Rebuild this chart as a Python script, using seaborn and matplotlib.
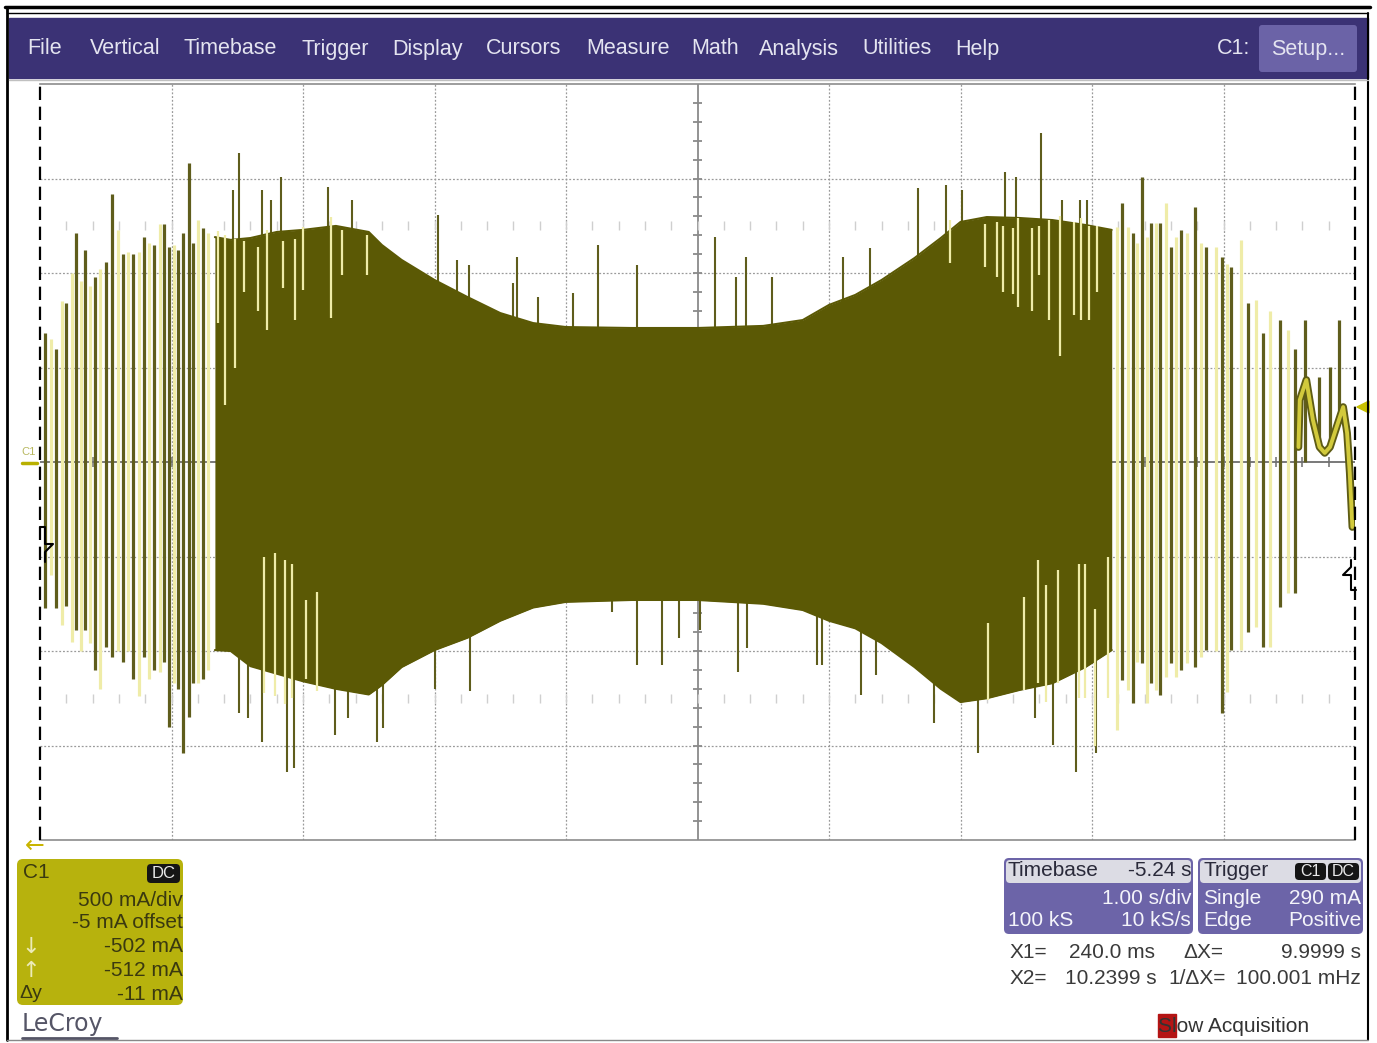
import matplotlib
matplotlib.use("Agg")
from matplotlib import pyplot as plt
from matplotlib.patches import FancyBboxPatch, Rectangle, Polygon
import numpy as np
import pandas as pd
import seaborn as sns

sns.set_theme(style="white")
plt.rcParams['font.family'] = ['Liberation Sans', 'DejaVu Sans']

# Dense body of the C1 trace: time (s, 0..10 across the screen) and current (mA)
env_t = [1.33, 1.45, 1.6, 1.8, 2.0, 2.25, 2.5, 2.6, 2.75, 3.0, 3.25, 3.5, 3.75, 4.0, 4.5,
         5.0, 5.5, 5.8, 6.0, 6.2, 6.4, 6.65, 6.85, 7.0, 7.2, 7.45, 7.7, 7.95, 8.15]
env_hi = [1190, 1175, 1185, 1217, 1228, 1249, 1217, 1148, 1069, 963, 873, 788, 735, 714, 709,
          709, 720, 751, 831, 884, 963, 1079, 1185, 1270, 1296, 1291, 1280, 1254, 1228]
env_lo = [-995, -1000, -1080, -1120, -1160, -1200, -1230, -1180, -1085, -995, -930, -840, -770, -740, -730,
          -730, -750, -783, -840, -880, -958, -1085, -1200, -1270, -1250, -1206, -1170, -1085, -995]

# Sparse strokes at the left end: time, top, bottom, pale (1) or dark (0)
left_t = [0.04, 0.08, 0.12, 0.17, 0.20, 0.24, 0.27, 0.31, 0.34, 0.38, 0.42, 0.46, 0.50, 0.55, 0.59, 0.63, 0.67,
          0.71, 0.75, 0.79, 0.83, 0.87, 0.91, 0.94, 0.98, 1.02, 1.05, 1.09, 1.13, 1.16, 1.20, 1.24, 1.28]
left_hi = [680, 650, 600, 850, 840, 1000, 1210, 960, 1120, 930, 980, 1020, 1060, 1420, 1230, 1100, 1110,
           1100, 1110, 1190, 1160, 1150, 1260, 1260, 1140, 1150, 1120, 1210, 1580, 1160, 1280, 1240, 1210]
left_lo = [-770, -600, -770, -860, -760, -950, -890, -1000, -890, -960, -1100, -1200, -980, -1030, -1000, -1060, -1000,
           -1150, -1240, -1030, -1150, -1100, -1110, -1060, -1400, -1170, -1200, -1540, -1350, -1170, -1170, -1150, -1100]
left_pale = [0, 1, 0, 1, 0, 1, 0, 1, 0, 1, 0, 1, 0, 0, 1, 0, 1,
             0, 1, 0, 1, 0, 1, 0, 0, 1, 0, 0, 0, 0, 1, 0, 1]

# Sparse strokes at the right end
right_t = [8.19, 8.23, 8.27, 8.31, 8.34, 8.38, 8.42, 8.45, 8.49, 8.52, 8.56, 8.60, 8.64, 8.68, 8.72, 8.78, 8.83,
           8.87, 8.94, 8.99, 9.03, 9.06, 9.13, 9.19, 9.25, 9.30, 9.35, 9.43, 9.49, 9.54, 9.62, 9.73, 9.81, 9.88]
right_hi = [1243, 1370, 1243, 1211, 1159, 1508, 1190, 1264, 1264, 1264, 1370, 1137, 1190, 1227, 1211, 1349, 1159,
            1137, 1137, 1084, 1050, 1032, 1174, 841, 857, 682, 800, 751, 700, 600, 751, 450, 503, 751]
right_lo = [-1418, -1153, -1206, -1275, -1060, -1063, -1275, -1169, -1206, -1233, -1137, -1063, -1137, -1100, -1063, -1084, -1032,
            -995, -1000, -1328, -1217, -995, -995, -900, -873, -979, -979, -767, -693, -693, 0, 116, 79, 275]
right_pale = [1, 0, 1, 0, 1, 0, 1, 0, 1, 0, 1, 0, 1, 0, 1, 0, 1,
              0, 1, 0, 1, 0, 1, 0, 1, 0, 1, 0, 1, 0, 0, 0, 0, 0]

# Pale strokes running inside the dense body
pale_t = [1.35, 1.41, 1.48, 1.55, 1.66, 1.73, 1.85, 1.94, 2.00, 2.21, 2.30, 2.49,
          1.70, 1.79, 1.86, 1.92, 2.02, 2.11,
          6.92, 7.19, 7.28, 7.32, 7.40, 7.44, 7.54, 7.60, 7.67, 7.76, 7.86, 7.92, 7.98, 8.04,
          7.21, 7.48, 7.59, 7.65, 7.74, 7.90, 7.95, 8.02, 8.12]
pale_top = [1220, 1200, 1180, 1170, 1140, 1230, 1170, 1180, 1243, 1296, 1227, 1200,
            -500, -480, -520, -540, -730, -690,
            1280, 1260, 1270, 1250, 1240, 1290, 1240, 1250, 1280, 1300, 1270, 1290, 1250, 1250,
            -850, -715, -520, -650, -570, -540, -540, -780, -500]
pale_bot = [735, 300, 500, 900, 800, 700, 920, 750, 910, 762, 990, 990,
            -1220, -1240, -1280, -1250, -1150, -1210,
            1053, 1030, 980, 900, 890, 820, 800, 990, 750, 560, 780, 750, 750, 900,
            -1260, -1206, -1170, -1270, -1170, -1250, -1250, -1500, -1250]

# Dark spikes sticking out of the body
up_t = [1.47, 1.51, 1.69, 1.76, 1.83, 2.19, 2.37, 3.03, 3.17, 3.26, 3.60, 3.63, 3.79, 4.05, 4.24, 4.54,
        5.13, 5.29, 5.37, 5.57, 6.11, 6.31, 6.68, 6.89, 7.01, 7.34, 7.42, 7.61, 7.77, 7.91, 7.96]
up_v = [1439, 1635, 1439, 1386, 1508, 1455, 1386, 1307, 1069, 1042, 947, 1084, 873, 894, 1148, 1042,
        1190, 979, 1084, 979, 1084, 1130, 1450, 1465, 1439, 1534, 1508, 1740, 1386, 1386, 1386]
down_t = [1.51, 1.58, 1.69, 1.88, 1.93, 2.24, 2.34, 2.56, 2.61, 3.00, 3.27, 4.35, 4.54, 4.73,
          4.86, 5.02, 5.31, 5.38, 5.91, 5.95, 6.24, 6.36, 6.80, 7.13, 7.57, 7.70, 7.88, 8.03]
down_v = [-1328, -1354, -1481, -1640, -1619, -1444, -1354, -1481, -1407, -1200, -1210, -794, -1074, -1074,
          -930, -889, -1111, -984, -1074, -1074, -1233, -1127, -1381, -1539, -1354, -1497, -1640, -1539]

# Slow tail at the very right
tail_t = [9.57, 9.58, 9.63, 9.68, 9.73, 9.77, 9.81, 9.86, 9.91, 9.94, 9.96, 9.98]
tail_v = [79, 328, 434, 222, 79, 48, 79, 185, 291, 153, -58, -344]

FILL = '#5b5905'
DARK = '#5f5d1c'
PALE = '#efeca8'

W, H = 1377, 1043
fig = plt.figure(figsize=(W / 100, H / 100), dpi=100)
fig.patch.set_facecolor('white')

ax = fig.add_axes([40 / W, 1 - 840 / H, 1315 / W, 756 / H])
ax.set_facecolor('white')
ax.set_xlim(0, 10)
ax.set_ylim(-2000, 2000)
ax.set_xticks([])
ax.set_yticks([])
for s in ['top', 'bottom']:
    ax.spines[s].set_color('#8c8c8c')
    ax.spines[s].set_linewidth(1.2)
for s in ['left', 'right']:
    ax.spines[s].set_visible(False)

# graticule
for t in [1, 2, 3, 4, 6, 7, 8, 9]:
    ax.axvline(t, color='#9a9a9a', lw=0.9, ls=(0, (1.5, 1.5)), zorder=1)
for v in [-1500, -1000, -500, 500, 1000, 1500]:
    ax.axhline(v, color='#9a9a9a', lw=0.9, ls=(0, (1.5, 1.5)), zorder=1)
ax.axvline(5, color='#8a8a8a', lw=1.3, zorder=1)
ax.axhline(0, color='#6e6e6e', lw=1.3, zorder=1)
minor_t = np.arange(0.2, 10, 0.2)
minor_v = np.arange(-1900, 2000, 100)
ax.vlines(minor_t, -28, 28, color='#6e6e6e', lw=1.1, zorder=1)
ax.hlines(minor_v, 4.965, 5.035, color='#8a8a8a', lw=1.3, zorder=1)
for v in [1250, -1250]:
    ax.vlines(minor_t, v - 25, v + 25, color='#cfcfcf', lw=1.0, zorder=1)

# trace
strokes = pd.DataFrame({
    't': left_t + right_t,
    'hi': left_hi + right_hi,
    'lo': left_lo + right_lo,
    'pale': left_pale + right_pale,
})
ax.vlines(strokes['t'], strokes['lo'], strokes['hi'],
          colors=[PALE if p else DARK for p in strokes['pale']], lw=2.3, zorder=2)
ax.vlines(up_t, 0, up_v, color=DARK, lw=1.5, zorder=2)
ax.vlines(down_t, down_v, 0, color=DARK, lw=1.5, zorder=2)
ax.fill_between(env_t, env_lo, env_hi, color=FILL, lw=0, zorder=3)
sns.lineplot(x=env_t, y=env_hi, ax=ax, color=FILL, lw=1.5, zorder=3)
sns.lineplot(x=env_t, y=env_lo, ax=ax, color=FILL, lw=1.5, zorder=3)
ax.vlines(pale_t, pale_bot, pale_top, color=PALE, lw=1.6, zorder=4)
sns.lineplot(x=tail_t, y=tail_v, ax=ax, color='#5e5c14', lw=5.5, sort=False, zorder=5)
sns.lineplot(x=tail_t, y=tail_v, ax=ax, color='#d2ca3c', lw=2.8, sort=False, zorder=6)

# cursors on both edges
for t in [0, 10]:
    ax.axvline(t, color='black', lw=1.6, ls=(0, (6, 3)), clip_on=False, zorder=7)

# ---- instrument frame and panels, in pixel coordinates ----
ui = fig.add_axes([0, 0, 1, 1], zorder=5)
ui.set_xlim(0, W)
ui.set_ylim(H, 0)
ui.axis('off')
ui.patch.set_alpha(0)

ui.plot([5, 1370], [7, 7], color='black', lw=2.5)
ui.plot([8, 1368], [13, 13], color='black', lw=1)
ui.plot([7, 7], [7, 1040], color='black', lw=2)
ui.plot([1368, 1368], [13, 1040], color='black', lw=1.5)
ui.plot([7, 1368], [1040, 1040], color='#888888', lw=1)
ui.plot([9, 1368], [80, 80], color='#c0c0c0', lw=1)

ui.add_patch(Rectangle((9, 18), 1359, 60, color='#3b3275'))
menu = [('File', 27), ('Vertical', 90), ('Timebase', 183), ('Trigger', 302), ('Display', 392),
        ('Cursors', 486), ('Measure', 586), ('Math', 691), ('Analysis', 759), ('Utilities', 862),
        ('Help', 955), ('C1:', 1217)]
for label, x in menu:
    ui.text(x, 49, label, color='#e4e4f0', fontsize=15.5, va='center', ha='left')
ui.add_patch(FancyBboxPatch((1259, 25), 98, 47, boxstyle='round,pad=0,rounding_size=3',
                            fc='#6b63a7', ec='none'))
ui.text(1308, 49, 'Setup...', color='#e4e4f0', fontsize=15.5, va='center', ha='center')

# screen markers
ui.plot([40, 45, 45, 53, 45, 45], [527, 527, 544, 544, 552, 562], color='black', lw=1.5)
ui.plot([1356, 1351, 1351, 1343, 1351, 1351], [590, 590, 575, 575, 567, 560], color='black', lw=1.5)
ui.add_patch(Polygon([(1357, 407), (1369, 401), (1369, 413)], color='#c8c000'))
ui.text(21, 452, 'C1', fontsize=8, color='#b8b860', va='center')
ui.plot([22, 37], [463, 463], color='#b8b000', lw=2.5)
ui.text(35, 846, '←', fontsize=17, family='DejaVu Sans', color='#c8b400', ha='center', va='center')

# C1 channel box
ui.add_patch(FancyBboxPatch((17, 859), 166, 146, boxstyle='round,pad=0,rounding_size=6',
                            fc='#b7b20d', ec='none'))
txt = '#3a3910'
ui.text(23, 873, 'C1', fontsize=15, color=txt, va='center')
ui.add_patch(FancyBboxPatch((147, 864), 33, 19, boxstyle='round,pad=0,rounding_size=4',
                            fc='#151515', ec='none'))
ui.text(163.5, 873.5, 'DC', fontsize=12, color='#e8e8e8', va='center', ha='center')
for label, y in [('500 mA/div', 900), ('-5 mA offset', 923), ('-502 mA', 947),
                 ('-512 mA', 971), ('-11 mA', 994)]:
    ui.text(183, y, label, fontsize=15, color=txt, va='center', ha='right')
ui.text(21, 947, '↓', fontsize=16, family='DejaVu Sans', color='#ecebb8', va='center')
ui.text(21, 971, '↑', fontsize=16, family='DejaVu Sans', color='#ecebb8', va='center')
ui.text(19, 994, 'Δy', fontsize=14, color=txt, va='center')

ui.text(22, 1024, 'LeCroy', fontsize=17, family='DejaVu Sans', color='#555566', va='center')
ui.plot([22, 117], [1038, 1038], color='#555566', lw=2)

# timebase / trigger boxes
for x0, w in [(1004, 189), (1198, 165)]:
    ui.add_patch(FancyBboxPatch((x0, 858), w, 76, boxstyle='round,pad=0,rounding_size=5',
                                fc='#6c64a8', ec='none'))
    ui.add_patch(FancyBboxPatch((x0 + 2, 860), w - 4, 23, boxstyle='round,pad=0,rounding_size=4',
                                fc='#dcdce4', ec='none'))
hdr = '#2a2a3a'
wt = '#f4f4fa'
fs = 15
ui.text(1008, 871, 'Timebase', fontsize=fs, color=hdr, va='center')
ui.text(1191, 871, '-5.24 s', fontsize=fs, color=hdr, va='center', ha='right')
ui.text(1191, 898, '1.00 s/div', fontsize=fs, color=wt, va='center', ha='right')
ui.text(1008, 921, '100 kS', fontsize=fs, color=wt, va='center')
ui.text(1191, 921, '10 kS/s', fontsize=fs, color=wt, va='center', ha='right')
ui.text(1203, 871, 'Trigger', fontsize=fs, color=hdr, va='center')
for label, x0 in [('C1', 1295), ('DC', 1328)]:
    ui.add_patch(FancyBboxPatch((x0, 863), 31, 17, boxstyle='round,pad=0,rounding_size=4',
                                fc='#151515', ec='none'))
    ui.text(x0 + 15.5, 871.5, label, fontsize=11.5, color='#e8e8e8', va='center', ha='center')
ui.text(1203, 898, 'Single', fontsize=fs, color=wt, va='center')
ui.text(1361, 898, '290 mA', fontsize=fs, color=wt, va='center', ha='right')
ui.text(1203, 921, 'Edge', fontsize=fs, color=wt, va='center')
ui.text(1361, 921, 'Positive', fontsize=fs, color=wt, va='center', ha='right')

# cursor readout
rd = '#3a3a3a'
ui.text(1010, 953, 'X1=', fontsize=fs, color=rd, va='center')
ui.text(1155, 953, '240.0 ms', fontsize=fs, color=rd, va='center', ha='right')
ui.text(1183, 953, 'ΔX=', fontsize=fs, color=rd, va='center')
ui.text(1361, 953, '9.9999 s', fontsize=fs, color=rd, va='center', ha='right')
ui.text(1010, 979, 'X2=', fontsize=fs, color=rd, va='center')
ui.text(1157, 979, '10.2399 s', fontsize=fs, color=rd, va='center', ha='right')
ui.text(1168, 979, '1/ΔX=', fontsize=fs, color=rd, va='center')
ui.text(1361, 979, '100.001 mHz', fontsize=fs, color=rd, va='center', ha='right')

ui.add_patch(Rectangle((1158, 1014), 18, 23, color='#b41414'))
ui.text(1158, 1026, 'Slow Acquisition', fontsize=fs, color='#333333', va='center')

fig.savefig('out.png', dpi=100, facecolor='white')
